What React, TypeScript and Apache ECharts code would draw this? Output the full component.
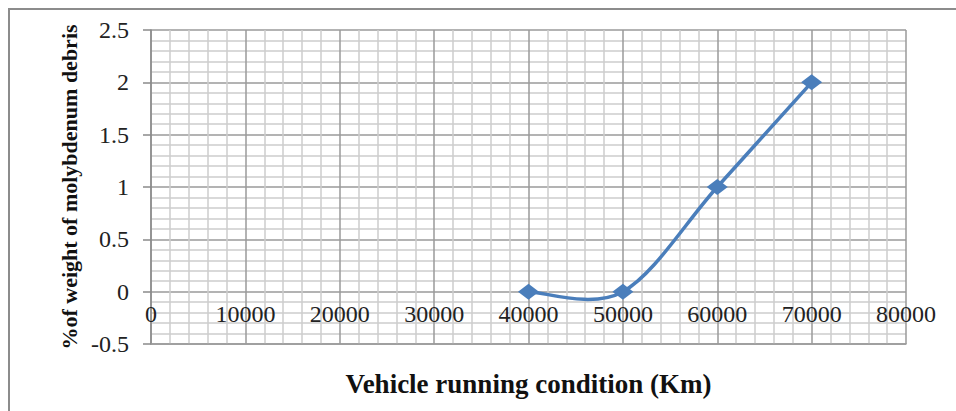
import React, { useEffect, useRef } from "react";
import * as echarts from "echarts";

const distances = [40000, 50000, 60000, 70000];
const debrisPercent = [0, 0, 1, 2];
const xTicks = [0, 10000, 20000, 30000, 40000, 50000, 60000, 70000, 80000];
const yTicks = [-0.5, 0, 0.5, 1, 1.5, 2, 2.5];

export default function App() {
  const ref = useRef<HTMLDivElement>(null);
  useEffect(() => {
    if (!ref.current) return;
    const chart = echarts.init(ref.current, undefined, { renderer: "svg" });
    const font = "'Liberation Serif', 'Times New Roman', serif";
    const blue = "#4a7ebb";
    const points = distances.map((d, i) => [d, debrisPercent[i]]);

    // Excel-style smoothed curve (Bezier with 1/6 tension) through the points, in pixel space
    const renderCurve = (params: any, api: any) => {
      if (params.dataIndex !== 0) return null;
      const p = points.map((pt) => api.coord(pt));
      const n = p.length;
      let d = `M${p[0][0]},${p[0][1]}`;
      for (let i = 0; i < n - 1; i++) {
        const p0 = p[Math.max(0, i - 1)];
        const p1 = p[i];
        const p2 = p[i + 1];
        const p3 = p[Math.min(n - 1, i + 2)];
        const c1x = p1[0] + (p2[0] - p0[0]) / 6;
        const c1y = p1[1] + (p2[1] - p0[1]) / 6;
        const c2x = p2[0] - (p3[0] - p1[0]) / 6;
        const c2y = p2[1] - (p3[1] - p1[1]) / 6;
        d += ` C${c1x},${c1y} ${c2x},${c2y} ${p2[0]},${p2[1]}`;
      }
      return {
        type: "path",
        shape: { pathData: d },
        style: { fill: "none", stroke: blue, lineWidth: 3.5, lineCap: "round", lineJoin: "round" },
      };
    };

    chart.setOption({
      animation: false,
      backgroundColor: "#ffffff",
      grid: { left: 151, right: 50, top: 30, bottom: 67, containLabel: false },
      graphic: [
        {
          type: "rect",
          shape: { x: 9, y: 9, width: 1000, height: 500 },
          style: { fill: "none", stroke: "#8c8c8c", lineWidth: 2 },
          silent: true,
        },
      ],
      xAxis: {
        type: "value",
        min: xTicks[0],
        max: xTicks[xTicks.length - 1],
        interval: 10000,
        name: "Vehicle running condition (Km)",
        nameLocation: "middle",
        nameGap: 26,
        nameTextStyle: { fontFamily: font, fontWeight: "bold", fontSize: 27, color: "#111" },
        axisLine: { onZero: false, lineStyle: { color: "#9a9a9a", width: 1.5 } },
        axisTick: { show: false },
        axisLabel: {
          fontFamily: font,
          fontSize: 24,
          color: "#222",
          margin: -42,
          formatter: (v: number) => String(v),
        },
        splitLine: { show: true, lineStyle: { color: "#9a9a9a", width: 1.5 } },
        minorTick: { show: false, splitNumber: 5 },
        minorSplitLine: { show: true, lineStyle: { color: "#cdcdcd", width: 1.5 } },
      },
      yAxis: {
        type: "value",
        min: yTicks[0],
        max: yTicks[yTicks.length - 1],
        interval: 0.5,
        name: "%of weight of molybdenum debris",
        nameLocation: "middle",
        nameGap: 70,
        nameTextStyle: { fontFamily: font, fontWeight: "bold", fontSize: 22, color: "#111" },
        axisLine: { show: true, onZero: false, lineStyle: { color: "#8a8a8a", width: 1.5 } },
        axisTick: { show: true, length: 8, lineStyle: { color: "#8a8a8a", width: 1.5 } },
        axisLabel: { fontFamily: font, fontSize: 24, color: "#222", margin: 22 },
        splitLine: { show: true, lineStyle: { color: "#9a9a9a", width: 1.5 } },
        minorTick: { show: false, splitNumber: 5 },
        minorSplitLine: { show: true, lineStyle: { color: "#cdcdcd", width: 1.5 } },
      },
      series: [
        {
          type: "custom",
          data: points,
          renderItem: renderCurve,
          z: 2,
          silent: true,
        },
        {
          type: "line",
          data: points,
          symbol: "diamond",
          symbolSize: [21, 16],
          lineStyle: { width: 0, opacity: 0 },
          itemStyle: { color: blue },
          z: 3,
        },
      ],
    });
    return () => chart.dispose();
  }, []);
  return (
    <div
      ref={ref}
      style={{ position: "absolute", left: 0, top: 0, width: 956, height: 411 }}
    />
  );
}
